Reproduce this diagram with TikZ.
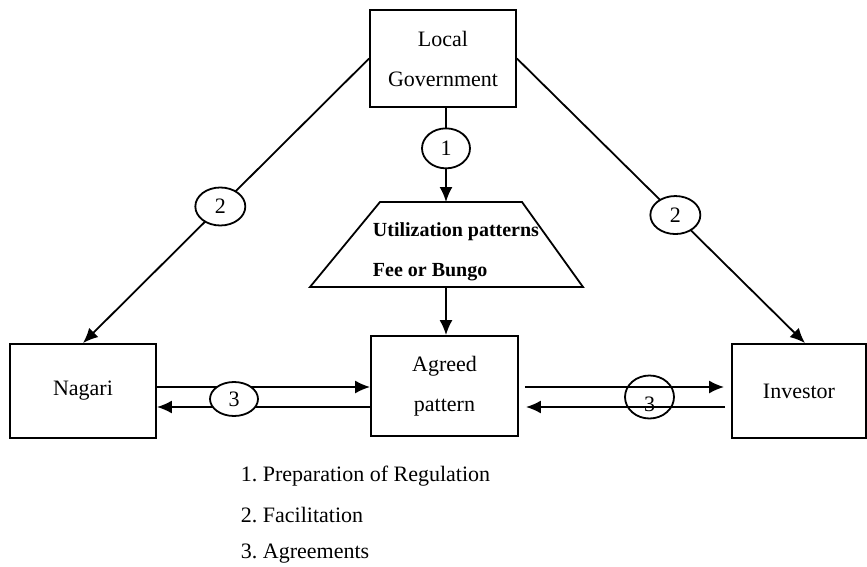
\documentclass[tikz,border=0pt]{standalone}
\usepackage{fontspec}
\setmainfont{Liberation Serif}
\usetikzlibrary{shapes.geometric,arrows.meta}
\begin{document}
\frenchspacing
\begin{tikzpicture}[x=0.5pt,y=-0.5pt,line width=0.9pt,
    txt/.style={font=\fontsize{11}{13}\selectfont},
    box/.style={txt,draw,rectangle,align=center},
    oval/.style={txt,draw,ellipse,minimum width=25pt,minimum height=19pt,inner sep=0pt},
    arr/.style={-{Latex[length=7.5pt,width=6.5pt]}}]
      \useasboundingbox (0,0) rectangle (867,567);
      \node[box,minimum width=73pt,minimum height=48.5pt] (lg) at (443,58.5) {Local\\[7pt]Government};
      \draw (380,202) -- (522,202) -- (583,287) -- (310,287) -- cycle;
      \coordinate (utop) at (446,202); \coordinate (ubot) at (446,287);
      \node[align=left,anchor=west,inner sep=0pt,font=\bfseries\fontsize{10}{12}\selectfont] (utxt) at (372,252) {Utilization patterns\\[8pt]Fee or Bungo};
      \node[box,minimum width=73.5pt,minimum height=50pt] (agreed) at (444.5,386) {Agreed\\[7pt]pattern};
      \node[box,minimum width=73pt,minimum height=47pt] (nagari) at (83,391) {Nagari};
      \node[box,minimum width=67pt,minimum height=47pt] (investor) at (799,391) {Investor};
      \draw[arr] (lg.south -| utop) -- node[oval,fill=white,pos=0.43,minimum width=24pt,minimum height=20pt] (e1) {1} (utop);
      \draw[arr] (ubot) -- (ubot |- agreed.north);
      \draw[arr] (lg.west) -- node[oval,fill=white,pos=0.52] (e2l) {2} (nagari.north);
      \draw[arr] (lg.east) -- node[oval,fill=white,pos=0.55] (e2r) {2} ([xshift=3pt]investor.north);
      \draw[arr] ([yshift=2pt]nagari.east) -- ([yshift=2pt]nagari.east -| agreed.west);
      \draw[arr] ([yshift=-8pt]nagari.east -| agreed.west) -- ([yshift=-8pt]nagari.east);
      \node[oval,fill=white,minimum width=24pt,minimum height=17pt] (e3l) at (234,399) {3};
      \draw[arr,shorten <=3pt,shorten >=3.5pt] ([yshift=-0.5pt]agreed.east) -- ([yshift=-0.5pt]agreed.east -| investor.west);
      \draw[arr,shorten <=3pt,shorten >=3.5pt] ([yshift=-10.5pt]agreed.east -| investor.west) -- ([yshift=-10.5pt]agreed.east);
      \node[oval,minimum width=24.5pt,minimum height=21.5pt] (e3r) at (649.5,397) {\raisebox{-7pt}[0pt][0pt]{3}};
      \node[txt,anchor=west,inner sep=0pt] (leg1) at (240,476) {1. Preparation of Regulation};
      \node[txt,anchor=west,inner sep=0pt] (leg2) at (240,515) {2. Facilitation};
      \node[txt,anchor=west,inner sep=0pt] (leg3) at (240,554) {3. Agreements};
\end{tikzpicture}
\end{document}
